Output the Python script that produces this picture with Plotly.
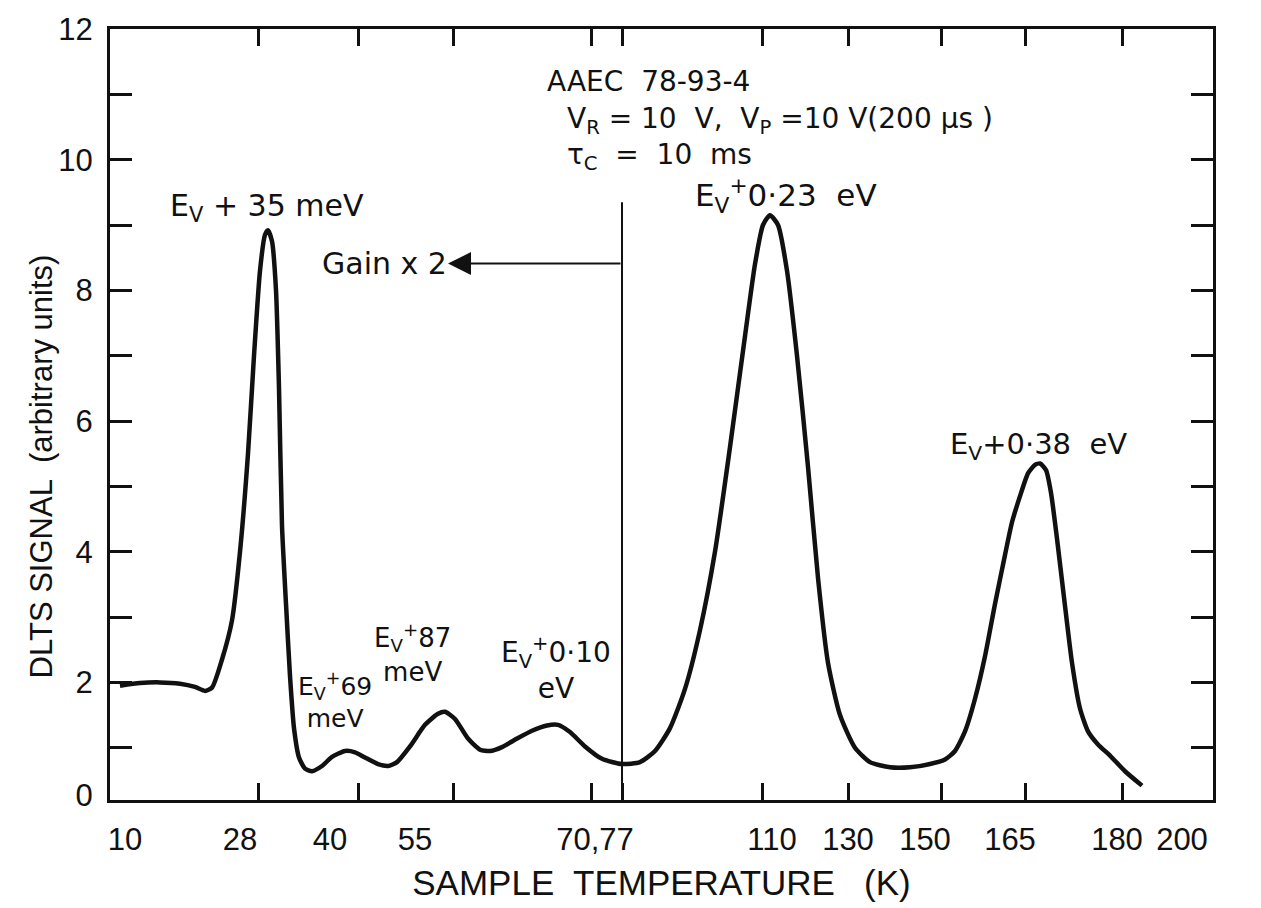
import plotly.graph_objects as go

# ---------------- data ----------------
# The hand-drawn temperature axis is non-uniform, so the curve is placed on a
# linear "chart position" scale (0 .. 1103) with the printed temperatures as labels.
x_tick_marks = [148, 248, 343, 481, 512, 652, 738, 831, 915, 1012]
x_label_pos = [15, 130, 220, 305, 485, 662, 738, 815, 900, 1007, 1072]
x_label_text = ["10", "28", "40", "55", "70,77", "110", "130", "150", "165", "180", "200"]

y_tick_marks = [1, 2, 3, 4, 5, 6, 7, 8, 9, 10, 11, 12]
y_label_pos = [0.27, 2, 4, 6, 8, 10, 12]
y_label_text = ["0", "2", "4", "6", "8", "10", "12"]

curve_x = [10, 30, 50, 70, 85, 95, 102, 112, 122, 130, 138, 144, 150, 155, 158,
           162, 166, 169, 172, 176, 180, 184, 189, 195, 202,
           212, 222, 235, 245, 255, 268, 278, 287, 300, 315, 328, 335, 345, 358,
           370, 380, 392, 407, 422, 437, 448, 460, 475, 492, 512, 530, 545, 560,
           575, 590, 605, 620, 635, 645, 653, 660, 668, 677, 687, 698, 708, 718,
           730, 745, 760, 780, 800, 820, 835, 845, 855, 865, 875, 885, 895, 902,
           910, 918, 925, 930, 936, 941, 947, 954, 962, 970, 978, 988, 1000, 1015, 1032]
curve_y = [1.95, 1.99, 2.0, 1.98, 1.93, 1.87, 1.92, 2.35, 2.95, 4.0, 5.5, 7.0, 8.3, 8.85, 8.92,
           8.75, 8.0, 6.5, 4.4, 3.2, 2.1, 1.3, 0.85, 0.68, 0.64,
           0.72, 0.86, 0.95, 0.93, 0.85, 0.75, 0.72, 0.78, 1.02, 1.35, 1.52, 1.55, 1.44, 1.14,
           0.97, 0.95, 1.01, 1.14, 1.26, 1.34, 1.35, 1.24, 1.02, 0.83, 0.75, 0.78, 0.95, 1.3,
           1.9, 2.8, 4.0, 5.6, 7.3, 8.4, 9.0, 9.15, 9.0, 8.3, 7.0, 5.3, 3.6, 2.3,
           1.5, 1.0, 0.78, 0.7, 0.7, 0.75, 0.82, 0.95, 1.25, 1.75, 2.4, 3.2, 3.95, 4.45,
           4.85, 5.2, 5.33, 5.35, 5.25, 4.9, 4.2, 3.3, 2.3, 1.6, 1.25, 1.05, 0.88, 0.64, 0.42]

gain_switch_x = 512      # the "70,77" position where the gain changes
gain_line_top = 9.35
gain_arrow_y = 8.41
gain_arrow_tip_x = 338

TICK_FONT = "Liberation Sans"
TEXT_FONT = "DejaVu Sans"
BLACK = "#111111"

fig = go.Figure()

fig.add_trace(go.Scatter(
    x=curve_x, y=curve_y, mode="lines",
    line=dict(color=BLACK, width=4.5, shape="spline", smoothing=0.6),
    hoverinfo="skip", showlegend=False))

fig.add_trace(go.Scatter(
    x=[gain_switch_x, gain_switch_x], y=[0.2, gain_line_top], mode="lines",
    line=dict(color=BLACK, width=2), hoverinfo="skip", showlegend=False))

# invisible trace on the label axes
fig.add_trace(go.Scatter(x=[0], y=[1], xaxis="x2", yaxis="y2", mode="markers",
                         marker=dict(opacity=0), hoverinfo="skip", showlegend=False))

# Gain arrow
fig.add_annotation(x=gain_arrow_tip_x, y=gain_arrow_y, ax=gain_switch_x, ay=gain_arrow_y,
                   xref="x", yref="y", axref="x", ayref="y", text="",
                   showarrow=True, arrowhead=2, arrowsize=2.3, arrowwidth=2,
                   arrowcolor=BLACK)

def label(x, y, text, size=28, xanchor="left"):
    fig.add_annotation(x=x, y=y, xref="x", yref="y", text=text, showarrow=False,
                       xanchor=xanchor, yanchor="middle", align="center",
                       font=dict(family=TEXT_FONT, size=size, color=BLACK))

label(435, 11.20, "AAEC  78-93-4", 28)
label(455, 10.60, "V<sub>R</sub> = 10  V,  V<sub>P</sub> =10 V(200 µs )", 28)
label(455, 10.05, "τ<sub>C</sub>  =  10  ms", 28)
label(583, 9.45, "E<sub>V</sub><sup>+</sup>0·23  eV", 31)
label(58, 9.27, "E<sub>V</sub> + 35 meV", 30)
label(210, 8.41, "Gain x 2", 30)
label(838, 5.62, "E<sub>V</sub>+0·38  eV", 29)
label(302, 2.45, "E<sub>V</sub><sup>+</sup>87<br>meV", 26, "center")
label(446, 2.22, "E<sub>V</sub><sup>+</sup>0·10<br>eV", 28, "center")
label(225, 1.72, "E<sub>V</sub><sup>+</sup>69<br>meV", 25, "center")

# rotated y-axis title
fig.add_annotation(x=-0.062, y=5.3, xref="paper", yref="y",
                   text="DLTS SIGNAL  (arbitrary units)", showarrow=False,
                   textangle=-90, xanchor="center", yanchor="middle",
                   font=dict(family=TICK_FONT, size=31, color=BLACK))

fig.update_layout(
    width=1261, height=908,
    margin=dict(l=110, r=48, t=21, b=93),
    paper_bgcolor="white", plot_bgcolor="white",
    showlegend=False,
    xaxis=dict(range=[0, 1103], showgrid=False, zeroline=False,
               showline=True, linewidth=3, linecolor=BLACK, mirror="allticks",
               ticks="inside", ticklen=17, tickwidth=3, tickcolor=BLACK,
               tickvals=x_tick_marks, showticklabels=False),
    yaxis=dict(range=[0.2, 12], showgrid=False, zeroline=False,
               showline=True, linewidth=3, linecolor=BLACK, mirror="allticks",
               ticks="inside", ticklen=22, tickwidth=3, tickcolor=BLACK,
               tickvals=y_tick_marks, showticklabels=False),
    xaxis2=dict(range=[0, 1103], overlaying="x", side="bottom", anchor="y2",
                showgrid=False, zeroline=False, showline=False,
                ticks="outside", ticklen=12, tickcolor="rgba(0,0,0,0)",
                tickvals=x_label_pos, ticktext=x_label_text,
                tickfont=dict(family=TICK_FONT, size=31, color=BLACK),
                title=dict(text="SAMPLE  TEMPERATURE   (K)", standoff=14,
                           font=dict(family=TICK_FONT, size=35, color=BLACK))),
    yaxis2=dict(range=[0.2, 12], overlaying="y", side="left", anchor="x2",
                showgrid=False, zeroline=False, showline=False,
                ticks="outside", ticklen=10, tickcolor="rgba(0,0,0,0)",
                tickvals=y_label_pos, ticktext=y_label_text,
                tickfont=dict(family=TICK_FONT, size=31, color=BLACK)),
)

fig.write_html("out.html", config={"displayModeBar": False},
               post_script="document.body.style.margin='0';")
